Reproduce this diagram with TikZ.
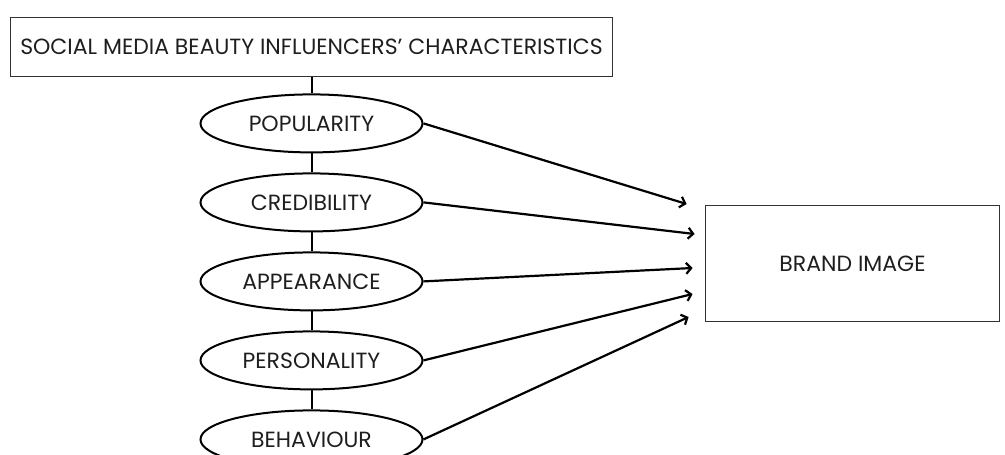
\documentclass[tikz,border=0pt]{standalone}
\usepackage{fontspec}
\setmainfont{Poppins}
\usetikzlibrary{arrows.meta,positioning,shapes.geometric}
\definecolor{ink}{HTML}{1E1E1E}
\definecolor{frame}{HTML}{333333}
\tikzset{
  box/.style={draw=frame,line width=1.8pt,align=center,inner sep=0pt,text=ink,font=\fontsize{22}{26}\selectfont},
  oval/.style={ellipse,draw=black,line width=2pt,minimum width=222pt,minimum height=58pt,inner sep=0pt,text=ink,font=\fontsize{22}{26}\selectfont},
  ln/.style={line width=2pt,draw=black},
  ar/.style={-{Straight Barb[length=5pt,width=11pt,line width=2.2pt]},line width=2.2pt,draw=black},
}
\begin{document}
\begin{tikzpicture}[x=1pt,y=1pt,node distance=19pt]
\useasboundingbox (0,0) rectangle (1005,-455);
\node[box,minimum width=602pt,minimum height=59pt] (top) at (311.5,-47) {SOCIAL MEDIA BEAUTY INFLUENCERS' CHARACTERISTICS};
\node[oval,below=16pt of top] (pop) {POPULARITY};
\node[oval,below=of pop] (cred) {CREDIBILITY};
\node[oval,below=of cred] (app) {APPEARANCE};
\node[oval,below=of app] (pers) {PERSONALITY};
\node[oval,below=of pers] (beh) {BEHAVIOUR};
\node[box,minimum width=294pt,minimum height=116pt] (brand) at (852.5,-263.5) {BRAND IMAGE};
\draw[ln] (top) -- (pop); \draw[ln] (pop) -- (cred); \draw[ln] (cred) -- (app); \draw[ln] (app) -- (pers); \draw[ln] (pers) -- (beh);
\draw[ar] (pop.east) -- ([shift={(-18pt,59.5pt)}]brand.west);
\draw[ar] (cred.east) -- ([shift={(-10pt,29.5pt)}]brand.west);
\draw[ar] (app.east) -- ([shift={(-12pt,-4.5pt)}]brand.west);
\draw[ar] (pers.east) -- ([shift={(-12pt,-30.5pt)}]brand.west);
\draw[ar] (beh.east) -- ([shift={(-16pt,-53.5pt)}]brand.west);
\end{tikzpicture}
\end{document}
